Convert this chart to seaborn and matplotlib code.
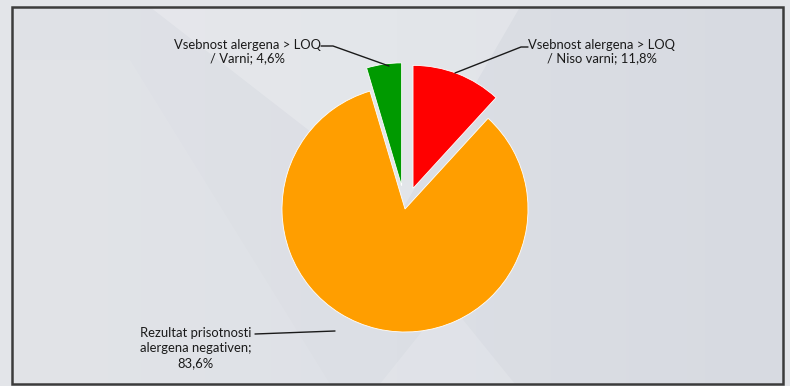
import numpy as np
import matplotlib
matplotlib.use("Agg")
import matplotlib.pyplot as plt
from matplotlib.patches import Polygon, Rectangle
import seaborn as sns

# Pie data (percent)
labels = ["Vsebnost alergena > LOQ\n/ Niso varni; 11,8%",
          "Rezultat prisotnosti\nalergena negativen;\n83,6%",
          "Vsebnost alergena > LOQ\n/ Varni; 4,6%"]
values = [11.8, 83.6, 4.6]
colors = ["#ff0000", "#ff9e00", "#009a00"]

sns.set_theme(style="white")
plt.rcParams["font.family"] = ["Lato", "DejaVu Sans"]

W, H = 790, 386
fig = plt.figure(figsize=(W / 100, H / 100), dpi=100)
fig.patch.set_facecolor("#e3e5e9")
ax = fig.add_axes([0, 0, 1, 1])


def Y(y):
    # image row -> plot y
    return H - y


# background gradient inside frame
grad = np.linspace(0, 1, 256).reshape(1, -1)
cmap = matplotlib.colors.LinearSegmentedColormap.from_list(
    "bg", ["#e0e2e7", "#dcdfe5", "#d7dae1"])
ax.imshow(grad, extent=[12, 783, Y(384), Y(7)], cmap=cmap, aspect="auto", zorder=0)

# faint light shapes of the slide background
for pts, a in [([(150, 7), (520, 7), (405, 205)], 0.22),
               ([(380, 384), (515, 384), (447, 300)], 0.15),
               ([(12, 60), (12, 384), (330, 384), (130, 60)], 0.08)]:
    ax.add_patch(Polygon([(x, Y(y)) for x, y in pts], closed=True,
                         facecolor="white", edgecolor="none", alpha=a, zorder=1))

# explode offsets are in data units (pixels here, radius 123)
r = 123
wedges, _ = ax.pie(values, colors=colors, explode=[0.18 * r, 0, 0.19 * r],
                   startangle=90, counterclock=False, radius=r,
                   center=(405, Y(209)),
                   wedgeprops=dict(linewidth=0.6, edgecolor="white"))
for w in wedges:
    w.set_zorder(3)

# labels and leader lines
txt = dict(ha="center", va="center", fontsize=9.4, color="#1a1a1a", zorder=5)
ax.text(602, Y(51.5), labels[0], linespacing=1.15, **txt)
ax.plot([455, 521, 528], [Y(73), Y(47), Y(47)], color="#1a1a1a", lw=1, zorder=4)

ax.text(247, Y(51.5), labels[2], linespacing=1.15, **txt)
ax.plot([321, 333, 389], [Y(46), Y(46), Y(66)], color="#1a1a1a", lw=1, zorder=4)

ax.text(196, Y(348), labels[1], linespacing=1.3, **txt)
ax.plot([255, 335], [Y(334), Y(331)], color="#1a1a1a", lw=1, zorder=4)

# slide frame
ax.add_patch(Rectangle((12, Y(384)), 771, 377, facecolor="none",
                       edgecolor="#3c3c3c", lw=1.8, zorder=6))

ax.set_xlim(0, W)
ax.set_ylim(0, H)
ax.set_aspect("auto")
ax.axis("off")

fig.savefig("out.png", dpi=100, facecolor=fig.get_facecolor())
